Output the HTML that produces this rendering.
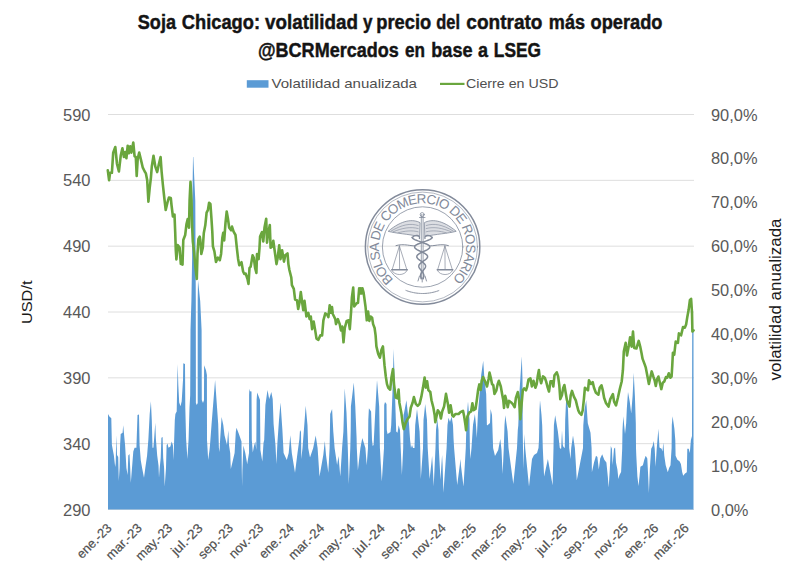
<!DOCTYPE html>
<html><head><meta charset="utf-8"><title>Soja Chicago</title>
<style>html,body{margin:0;padding:0;background:#fff;}svg{display:block;}text{font-family:"Liberation Sans",sans-serif;}</style>
</head><body>
<svg width="800" height="580" viewBox="0 0 800 580">
<rect width="800" height="580" fill="#ffffff"/>
<g font-weight="bold" fill="#141414" stroke="#141414" stroke-width="0.45" font-size="20.4">
<text x="137.8" y="29.3" textLength="38.2" lengthAdjust="spacingAndGlyphs">Soja</text>
<text x="181.8" y="29.3" textLength="78.2" lengthAdjust="spacingAndGlyphs">Chicago:</text>
<text x="265" y="29.3" textLength="93.0" lengthAdjust="spacingAndGlyphs">volatilidad</text>
<text x="363" y="29.3" textLength="9.5" lengthAdjust="spacingAndGlyphs">y</text>
<text x="376.3" y="29.3" textLength="55.0" lengthAdjust="spacingAndGlyphs">precio</text>
<text x="436.3" y="29.3" textLength="23.7" lengthAdjust="spacingAndGlyphs">del</text>
<text x="466.3" y="29.3" textLength="76.2" lengthAdjust="spacingAndGlyphs">contrato</text>
<text x="548.8" y="29.3" textLength="36.2" lengthAdjust="spacingAndGlyphs">más</text>
<text x="590.5" y="29.3" textLength="72.0" lengthAdjust="spacingAndGlyphs">operado</text>
<text x="258" y="56.6" textLength="140.8" lengthAdjust="spacingAndGlyphs">@BCRMercados</text>
<text x="405" y="56.6" textLength="20.0" lengthAdjust="spacingAndGlyphs">en</text>
<text x="431.3" y="56.6" textLength="41.2" lengthAdjust="spacingAndGlyphs">base</text>
<text x="478" y="56.6" textLength="10.0" lengthAdjust="spacingAndGlyphs">a</text>
<text x="493.8" y="56.6" textLength="47.2" lengthAdjust="spacingAndGlyphs">LSEG</text>
</g>
<rect x="246.8" y="80.2" width="21.7" height="7.5" fill="#5b9bd5"/>
<text x="271.5" y="87.6" font-size="13.1" fill="#505050" textLength="145.5" lengthAdjust="spacingAndGlyphs">Volatilidad anualizada</text>
<line x1="440" y1="83.9" x2="464.5" y2="83.9" stroke="#6aa63e" stroke-width="2.2"/>
<text x="466" y="87.6" font-size="13.1" fill="#505050" textLength="92.5" lengthAdjust="spacingAndGlyphs">Cierre en USD</text>
<line x1="108.0" y1="114.50" x2="694.0" y2="114.50" stroke="#dedede" stroke-width="1"/>
<line x1="108.0" y1="180.33" x2="694.0" y2="180.33" stroke="#dedede" stroke-width="1"/>
<line x1="108.0" y1="246.17" x2="694.0" y2="246.17" stroke="#dedede" stroke-width="1"/>
<line x1="108.0" y1="312.00" x2="694.0" y2="312.00" stroke="#dedede" stroke-width="1"/>
<line x1="108.0" y1="377.83" x2="694.0" y2="377.83" stroke="#dedede" stroke-width="1"/>
<line x1="108.0" y1="443.67" x2="694.0" y2="443.67" stroke="#dedede" stroke-width="1"/>
<line x1="108.0" y1="509.50" x2="694.0" y2="509.50" stroke="#dedede" stroke-width="1"/>
<text x="63" y="120.5" font-size="16.6" fill="#595959" textLength="27.5" lengthAdjust="spacingAndGlyphs">590</text>
<text x="63" y="186.3" font-size="16.6" fill="#595959" textLength="27.5" lengthAdjust="spacingAndGlyphs">540</text>
<text x="63" y="252.2" font-size="16.6" fill="#595959" textLength="27.5" lengthAdjust="spacingAndGlyphs">490</text>
<text x="63" y="318.0" font-size="16.6" fill="#595959" textLength="27.5" lengthAdjust="spacingAndGlyphs">440</text>
<text x="63" y="383.8" font-size="16.6" fill="#595959" textLength="27.5" lengthAdjust="spacingAndGlyphs">390</text>
<text x="63" y="449.7" font-size="16.6" fill="#595959" textLength="27.5" lengthAdjust="spacingAndGlyphs">340</text>
<text x="63" y="515.5" font-size="16.6" fill="#595959" textLength="27.5" lengthAdjust="spacingAndGlyphs">290</text>
<text x="711" y="120.5" font-size="16.6" fill="#595959" textLength="46.5" lengthAdjust="spacingAndGlyphs">90,0%</text>
<text x="711" y="164.4" font-size="16.6" fill="#595959" textLength="46.5" lengthAdjust="spacingAndGlyphs">80,0%</text>
<text x="711" y="208.3" font-size="16.6" fill="#595959" textLength="46.5" lengthAdjust="spacingAndGlyphs">70,0%</text>
<text x="711" y="252.2" font-size="16.6" fill="#595959" textLength="46.5" lengthAdjust="spacingAndGlyphs">60,0%</text>
<text x="711" y="296.1" font-size="16.6" fill="#595959" textLength="46.5" lengthAdjust="spacingAndGlyphs">50,0%</text>
<text x="711" y="339.9" font-size="16.6" fill="#595959" textLength="46.5" lengthAdjust="spacingAndGlyphs">40,0%</text>
<text x="711" y="383.8" font-size="16.6" fill="#595959" textLength="46.5" lengthAdjust="spacingAndGlyphs">30,0%</text>
<text x="711" y="427.7" font-size="16.6" fill="#595959" textLength="46.5" lengthAdjust="spacingAndGlyphs">20,0%</text>
<text x="711" y="471.6" font-size="16.6" fill="#595959" textLength="46.5" lengthAdjust="spacingAndGlyphs">10,0%</text>
<text x="711" y="515.5" font-size="16.6" fill="#595959" textLength="37.5" lengthAdjust="spacingAndGlyphs">0,0%</text>
<text transform="translate(32.1,302.3) rotate(-90)" text-anchor="middle" font-size="15.4" fill="#1a1a1a" textLength="43.5" lengthAdjust="spacingAndGlyphs">USD/t</text>
<text transform="translate(780.5,299.5) rotate(-90)" text-anchor="middle" font-size="15.6" fill="#1a1a1a" textLength="162" lengthAdjust="spacingAndGlyphs">volatilidad anualizada</text>
<g fill="none" stroke="#828a9a" stroke-linecap="round" stroke-linejoin="round">
<circle cx="422.6" cy="247.0" r="57.2" stroke-width="1.5"/>
<circle cx="422.6" cy="247.0" r="54.9" stroke-width="0.6"/>
<circle cx="422.6" cy="247.0" r="40.2" stroke-width="0.8"/>
<path d="M405.9,290.4 A46.5,46.5 0 0 0 439.3,290.4" stroke-width="0.9" stroke-dasharray="1.2 0.6"/>
<path d="M421.3,214.5 L421.3,279 M423.1,214.5 L423.1,279" stroke-width="0.8"/>
<circle cx="422.2" cy="214.6" r="2" stroke-width="0.8"/>
<path d="M419.5,217.5 H425" stroke-width="0.8"/>
<path d="M419.7,222.5 C413.2,219 402.2,219.5 388.2,231.3 C396.2,233.5 408.2,234 419.2,236.5 Z" stroke-width="0.8" fill="#828a9a" fill-opacity="0.28"/>
<path d="M418.2,225.5 C410.2,223 402.2,224.5 391.2,231 M418.2,228.5 C410.2,226.5 402.2,228 393.2,231.8 M418.2,231.8 C412.2,230 404.2,231 398.2,232.8" stroke-width="0.6"/>
<path d="M424.7,222.5 C431.2,219 442.2,219.5 456.2,231.3 C448.2,233.5 436.2,234 425.2,236.5 Z" stroke-width="0.8" fill="#828a9a" fill-opacity="0.28"/>
<path d="M426.2,225.5 C434.2,223 442.2,224.5 453.2,231 M426.2,228.5 C434.2,226.5 442.2,228 451.2,231.8 M426.2,231.8 C432.2,230 440.2,231 446.2,232.8" stroke-width="0.6"/>
<path d="M432.2,237.5 L431.8,238.2 L430.9,238.9 L429.7,239.6 L428.1,240.2 L426.4,240.9 L424.4,241.6 L422.5,242.3 L420.6,243.0 L418.8,243.7 L417.3,244.3 L416.1,245.0 L415.2,245.7 L414.7,246.4 L414.6,247.1 L414.8,247.8 L415.4,248.4 L416.3,249.1 L417.4,249.8 L418.7,250.5 L420.1,251.2 L421.6,251.8 L423.0,252.5 L424.3,253.2 L425.4,253.9 L426.4,254.6 L427.1,255.3 L427.5,255.9 L427.6,256.6 L427.5,257.3 L427.1,258.0 L426.5,258.7 L425.7,259.4 L424.8,260.1 L423.9,260.7 L422.9,261.4 L421.9,262.1 L421.0,262.8 L420.3,263.5 L419.7,264.1 L419.2,264.8 L418.9,265.5 L418.8,266.2 L418.9,266.9 L419.1,267.6 L419.5,268.2 L420.0,268.9 L420.5,269.6 L421.1,270.3 L421.6,271.0 L422.2,271.7 L422.7,272.4 L423.1,273.0 L423.4,273.7 L423.7,274.4 L423.8,275.1 L423.8,275.8 L423.8,276.4 L423.6,277.1 L423.4,277.8 L423.2,278.5" stroke-width="1.5"/>
<path d="M412.2,237.5 L412.6,238.2 L413.5,238.9 L414.7,239.6 L416.3,240.2 L418.0,240.9 L420.0,241.6 L421.9,242.3 L423.8,243.0 L425.6,243.7 L427.1,244.3 L428.3,245.0 L429.2,245.7 L429.7,246.4 L429.8,247.1 L429.6,247.8 L429.0,248.4 L428.1,249.1 L427.0,249.8 L425.7,250.5 L424.3,251.2 L422.8,251.8 L421.4,252.5 L420.1,253.2 L419.0,253.9 L418.0,254.6 L417.3,255.3 L416.9,255.9 L416.8,256.6 L416.9,257.3 L417.3,258.0 L417.9,258.7 L418.7,259.4 L419.6,260.1 L420.5,260.7 L421.5,261.4 L422.5,262.1 L423.4,262.8 L424.1,263.5 L424.7,264.1 L425.2,264.8 L425.5,265.5 L425.6,266.2 L425.5,266.9 L425.3,267.6 L424.9,268.2 L424.4,268.9 L423.9,269.6 L423.3,270.3 L422.8,271.0 L422.2,271.7 L421.7,272.4 L421.3,273.0 L421.0,273.7 L420.7,274.4 L420.6,275.1 L420.6,275.8 L420.6,276.4 L420.8,277.1 L421.0,277.8 L421.2,278.5" stroke-width="1.5"/>
<path d="M432.2,237.5 C429,234 424,235 425,238.5 M412.2,237.5 C415.4,234 420.4,235 419.4,238.5" stroke-width="1.3"/>
<path d="M419.5,276 L418,281 M425,276 L426.5,281 M422.2,278 L422.2,282" stroke-width="0.9"/>
<path d="M396,245.6 C404,243.2 412,246.5 415,245.8 M429.5,245.8 C433,246.5 441,243.2 448.4,245.6" stroke-width="1"/>
<path d="M399.4,246 L392.2,269.5 M399.4,246 L406.79999999999995,269.5 M399.4,246 L399.59999999999997,269.5" stroke-width="0.7"/>
<path d="M391.79999999999995,269.7 H407.2" stroke-width="1.6"/>
<path d="M392.0,270.5 C394.4,276 404.79999999999995,276 407.0,270.5" stroke-width="0.7"/>
<path d="M444.9,246 L437.7,269.5 M444.9,246 L452.29999999999995,269.5 M444.9,246 L445.09999999999997,269.5" stroke-width="0.7"/>
<path d="M437.29999999999995,269.7 H452.7" stroke-width="1.6"/>
<path d="M437.5,270.5 C439.9,276 450.29999999999995,276 452.5,270.5" stroke-width="0.7"/>
</g>
<defs><path id="ringp" d="M393.71,279.65 A43.6,43.6 0 1 1 452.61,278.63"/></defs>
<text font-size="13.4" fill="#828a9a" stroke="none"><textPath href="#ringp" textLength="209.3" lengthAdjust="spacing">BOLSA DE COMERCIO DE ROSARIO</textPath></text>
<polygon points="108.0,509.5 108.0,413.9 109.4,416.4 111.3,418.3 111.9,445.0 113.8,455.0 115.2,467.0 115.7,463.0 116.3,435.3 117.0,455.0 118.2,457.0 118.8,481.0 119.6,468.0 120.1,445.0 120.7,434.0 122.6,432.7 123.2,425.2 123.9,432.7 125.1,445.3 126.4,468.0 127.6,475.0 128.3,455.4 129.5,454.1 130.2,468.0 130.8,482.8 132.0,468.0 133.3,451.6 134.6,447.8 136.4,447.8 137.5,415.1 139.0,414.5 139.6,445.3 140.8,460.4 142.1,468.0 144.0,477.7 145.3,468.0 147.1,455.4 148.4,439.0 149.7,413.9 150.9,401.3 151.8,420.2 152.5,447.8 153.4,447.8 154.3,436.5 155.3,422.7 155.9,439.0 157.2,455.4 158.5,465.4 159.0,477.7 159.7,468.0 160.7,457.9 161.4,437.8 162.6,437.1 163.2,457.9 164.1,468.0 164.7,486.5 166.0,468.0 166.6,445.3 167.5,443.4 168.5,447.8 170.4,446.6 171.7,441.5 172.9,445.3 173.5,460.0 174.8,420.2 175.4,413.9 176.7,411.4 177.3,380.0 177.7,364.0 178.3,385.0 179.2,402.5 180.5,406.3 181.7,401.3 183.0,380.0 183.3,363.3 185.0,364.0 185.3,407.6 186.1,439.0 187.4,458.9 188.6,439.0 189.5,407.6 190.2,395.0 190.5,330.0 191.4,301.0 192.1,259.0 192.4,201.0 193.0,157.0 193.3,157.0 195.3,201.0 195.8,301.0 195.9,403.0 196.8,405.0 197.7,403.0 197.7,301.0 198.0,280.0 200.2,301.0 201.6,330.0 201.8,400.0 203.0,403.0 204.0,400.0 204.1,365.2 206.0,370.3 206.9,375.0 207.0,440.0 208.2,460.1 209.5,450.0 210.0,445.0 211.5,425.0 215.1,380.0 218.2,424.0 218.9,448.0 219.5,452.0 220.1,440.0 221.6,417.1 223.3,425.0 224.5,435.3 227.0,445.0 228.3,430.3 229.0,445.0 230.2,453.0 230.8,469.0 232.5,462.0 234.6,453.0 235.8,432.0 236.5,427.8 238.9,434.0 241.5,441.6 241.8,470.0 242.1,486.5 242.4,470.0 243.4,445.4 245.3,453.0 247.2,464.0 249.0,453.0 249.1,395.0 249.4,388.8 250.0,391.3 251.5,391.5 251.8,440.0 252.8,452.6 254.0,446.0 255.3,441.6 256.3,450.0 256.6,400.0 257.2,392.6 259.1,397.6 260.0,400.0 260.4,450.0 262.3,461.4 263.5,443.0 264.2,440.0 265.4,405.0 267.5,390.0 269.2,398.9 271.3,392.0 272.7,398.9 273.6,424.0 275.5,445.4 276.4,464.0 277.4,443.0 279.0,420.0 280.5,402.6 282.4,430.0 283.6,453.0 286.8,460.0 288.7,453.0 290.3,435.3 291.8,453.0 295.0,472.7 297.5,453.0 299.4,439.0 300.0,430.0 301.0,432.0 301.3,458.9 302.5,448.0 303.8,431.6 305.7,405.8 307.5,425.3 308.2,448.0 310.0,457.6 313.2,448.0 315.7,435.4 317.6,448.0 319.5,476.5 323.3,455.0 324.8,441.0 326.0,455.0 328.3,472.7 329.6,448.0 330.2,414.0 332.1,409.0 333.3,431.6 334.6,448.0 337.1,465.0 338.5,456.0 340.3,476.5 342.1,448.0 343.4,431.6 344.7,388.2 346.5,412.7 347.8,448.0 348.8,484.0 350.3,448.0 350.7,430.0 350.9,406.4 353.8,382.5 355.3,406.4 356.6,437.9 356.8,448.0 357.9,470.2 360.4,448.0 362.3,437.9 365.4,448.0 366.7,465.2 368.0,448.0 368.3,420.0 368.9,408.3 371.1,411.5 372.0,440.0 372.7,446.0 373.6,445.0 375.5,406.4 377.0,380.0 379.2,406.4 379.9,448.0 381.8,481.5 384.0,448.0 384.2,405.0 385.0,402.0 386.5,404.0 386.8,430.0 387.5,434.0 390.5,432.0 391.2,425.3 392.4,393.9 393.7,349.0 395.6,412.7 396.2,431.6 397.5,432.8 398.7,425.3 400.0,430.3 400.7,448.0 401.9,475.0 403.2,448.0 403.5,415.0 404.1,412.7 406.4,400.2 408.9,422.8 410.1,440.0 411.0,448.0 412.0,445.0 413.0,448.0 414.5,448.0 415.2,425.3 417.0,409.0 419.6,431.6 420.2,448.0 420.8,479.0 423.0,448.0 423.5,420.0 425.2,403.9 427.0,420.0 427.7,448.0 429.6,479.0 431.5,462.0 432.1,456.0 432.7,465.0 433.7,486.5 435.5,448.0 436.0,430.0 437.2,419.0 438.5,430.0 438.8,448.0 440.5,480.0 441.6,462.0 442.1,455.0 442.6,465.0 443.4,492.8 446.6,448.0 447.5,425.0 448.5,417.8 450.0,422.0 451.6,416.5 453.0,425.0 453.5,438.0 454.1,448.0 457.2,485.0 459.8,465.0 460.4,459.0 461.0,466.0 463.5,486.5 465.8,448.0 466.5,420.0 468.0,401.4 469.5,420.0 469.9,448.0 470.4,459.0 471.5,448.0 473.0,425.0 474.9,414.0 476.0,425.0 476.8,438.0 478.0,412.7 481.2,375.0 483.2,360.7 484.5,380.0 486.2,393.9 486.9,425.3 487.5,425.3 490.0,423.0 490.6,409.0 492.0,415.0 493.1,448.0 495.0,456.0 498.2,450.0 500.3,439.0 501.5,450.0 502.6,474.0 503.8,448.0 504.5,425.0 505.3,415.3 507.6,431.6 508.5,448.0 513.3,484.0 517.0,448.0 517.8,430.0 518.3,425.3 519.6,390.0 521.8,356.3 522.5,380.0 522.7,430.0 523.0,448.0 523.3,469.0 524.0,448.0 524.6,434.0 525.2,448.0 529.0,486.5 532.0,459.0 534.0,455.0 537.0,453.0 538.5,448.0 539.0,440.0 539.5,410.0 540.0,400.2 541.5,415.0 542.2,425.3 542.8,448.0 544.1,476.5 547.9,459.0 552.6,485.3 553.5,448.0 553.9,425.0 555.2,415.3 557.9,431.6 559.8,448.0 561.0,449.0 561.2,448.0 562.0,430.3 562.8,445.0 563.5,447.0 564.8,448.0 565.2,420.0 566.5,391.4 568.0,410.0 569.0,440.0 569.2,448.0 570.5,459.0 571.2,448.0 573.0,435.4 574.9,448.0 576.8,480.3 583.0,448.0 583.3,425.3 584.5,410.0 586.2,400.0 587.8,423.2 590.5,432.8 591.6,448.0 591.9,472.2 594.0,462.6 596.0,455.7 597.4,457.0 598.8,469.5 600.2,458.4 602.2,454.3 604.3,459.8 606.4,462.6 607.8,476.4 608.7,487.4 609.8,469.5 610.8,446.0 611.9,448.8 612.6,465.0 614.0,448.8 615.1,447.4 616.0,462.6 617.4,469.5 618.4,479.0 619.5,475.0 621.1,472.0 622.2,448.8 622.5,430.0 623.3,416.3 625.0,434.0 626.2,423.0 626.8,409.0 628.0,392.1 629.8,402.0 631.2,413.5 632.6,396.0 633.3,382.0 633.7,372.8 634.9,396.0 635.8,423.0 636.0,448.0 636.3,455.7 637.4,476.4 638.5,486.0 639.5,476.4 640.4,466.7 642.9,465.3 644.3,459.8 645.7,455.7 647.3,458.4 648.2,476.4 648.9,493.0 649.8,469.5 651.2,448.8 652.6,446.0 653.7,441.0 654.7,448.8 655.6,466.7 656.7,448.8 658.4,428.7 659.5,447.4 661.6,448.8 662.5,451.6 663.3,442.5 664.3,455.7 665.7,465.3 667.8,472.2 669.1,468.1 670.5,465.3 671.6,448.0 671.8,425.0 672.6,416.3 674.4,428.7 675.3,440.0 675.6,455.7 677.4,459.8 679.5,461.2 680.9,464.0 682.2,472.2 683.2,475.7 685.0,473.6 686.8,472.2 687.3,448.8 688.7,448.8 689.8,452.9 690.9,440.0 692.0,436.0 692.2,331.0 693.5,331.0 693.5,509.5" fill="#5b9bd5"/>
<polyline points="107.8,170.3 109.1,180.3 110.1,172.8 111.9,172.8 113.2,152.6 115.3,147.0 117.0,164.0 118.9,171.5 120.8,155.2 122.4,148.2 123.9,157.0 125.2,152.0 126.4,158.3 127.7,145.7 128.9,153.3 130.2,146.4 131.4,152.6 133.3,142.6 134.6,156.4 135.8,157.0 136.7,175.9 137.7,158.9 139.2,152.6 140.9,159.6 142.8,167.7 144.7,171.5 145.9,173.4 147.2,180.3 148.4,201.7 149.7,187.9 150.9,177.8 151.8,166.5 153.5,155.8 155.3,166.5 157.2,172.1 158.9,164.0 160.6,157.0 161.6,171.5 162.9,185.0 164.2,197.0 165.7,210.0 167.6,202.0 168.9,197.5 170.8,198.0 171.5,205.0 172.9,216.5 174.5,214.6 175.2,232.0 175.8,250.1 176.4,259.5 177.7,245.1 179.6,247.6 180.8,263.9 182.5,264.6 183.3,240.0 185.2,235.0 186.5,224.0 187.7,219.0 189.0,227.8 189.6,200.2 190.5,181.9 191.5,200.2 192.1,225.3 192.8,241.3 194.0,251.4 195.3,266.4 196.8,279.0 197.5,253.9 198.4,239.0 199.7,236.6 200.3,240.0 201.3,253.9 202.8,247.6 203.8,233.0 205.3,225.3 206.6,212.7 207.9,210.2 209.1,202.7 210.4,203.9 211.4,217.8 212.3,231.6 212.9,246.3 214.4,251.4 216.0,262.0 217.9,257.6 219.8,260.2 221.1,253.9 222.3,238.0 223.2,232.9 224.2,240.4 225.5,222.8 226.7,211.5 228.0,219.0 229.2,227.8 231.1,230.3 232.0,226.6 233.6,231.6 235.5,235.0 236.8,247.6 238.1,258.9 239.3,265.2 240.0,264.1 241.5,262.2 243.1,271.5 244.3,274.0 245.7,273.6 247.5,279.0 248.5,284.0 249.5,268.0 250.7,266.6 252.6,255.3 253.8,257.8 255.1,267.9 256.4,272.9 257.0,254.1 258.6,259.1 259.5,247.8 260.1,236.4 262.0,232.0 263.3,241.5 264.5,227.6 266.2,218.8 267.0,242.7 268.3,232.7 269.8,225.1 270.6,247.8 272.1,246.5 273.3,240.8 274.6,250.3 276.5,264.1 277.7,257.8 279.2,245.3 280.5,259.1 282.1,250.3 284.0,261.6 285.3,255.3 287.5,253.4 288.4,264.1 289.4,270.0 291.3,277.5 291.9,285.1 293.8,288.9 295.1,299.6 297.0,300.2 298.2,309.0 299.5,302.7 300.8,292.0 302.0,301.4 303.3,310.3 304.5,300.8 305.8,311.5 306.4,316.5 308.3,312.8 309.6,319.1 310.8,316.5 312.1,329.1 313.7,321.6 315.2,330.4 316.5,338.6 318.4,339.8 320.3,335.4 322.1,335.4 323.4,320.3 325.3,313.4 327.2,314.7 328.4,317.2 329.7,305.2 330.9,312.8 332.0,307.1 332.8,314.0 335.3,319.1 336.0,324.1 337.9,319.1 339.7,324.1 341.0,330.4 342.3,326.6 343.5,342.3 344.8,327.9 346.7,320.9 348.6,320.3 349.8,329.1 351.1,311.5 351.9,297.7 353.2,287.6 354.2,306.5 356.7,303.3 358.0,302.7 359.2,288.2 360.1,293.5 360.8,288.2 361.6,293.5 362.4,288.2 363.6,292.6 365.5,306.5 366.8,320.3 368.1,311.5 369.3,320.9 370.6,316.5 372.1,317.8 373.1,324.1 374.6,328.0 375.6,335.4 376.4,346.4 378.2,353.9 379.9,357.7 381.4,350.1 382.9,346.4 384.5,365.2 385.8,376.5 387.0,384.1 388.3,387.9 390.2,389.7 391.4,377.8 393.0,369.0 394.0,384.1 395.7,397.6 397.5,398.3 398.6,389.5 399.4,402.7 401.3,412.7 402.6,422.8 403.8,429.1 405.7,422.8 407.6,419.0 409.5,416.5 410.8,407.7 412.6,402.7 413.9,397.0 415.8,403.9 417.7,405.8 419.6,403.9 421.4,396.4 423.0,387.6 424.6,377.5 425.8,387.6 427.1,381.3 428.4,390.1 430.3,392.0 431.5,400.2 433.4,407.7 434.7,415.3 435.3,422.2 436.5,416.5 437.8,410.2 439.7,412.7 440.9,418.4 442.2,411.5 444.1,406.4 446.0,393.9 447.9,403.9 449.1,412.7 450.6,405.2 452.3,415.3 453.5,416.5 455.4,414.0 458.6,414.0 460.4,412.1 463.0,410.8 464.2,416.5 465.5,425.3 466.1,430.3 467.4,416.5 469.2,412.7 471.1,411.5 472.4,403.3 473.6,410.2 475.5,409.0 476.8,400.2 478.1,390.1 479.3,384.4 480.6,390.0 481.8,380.5 483.1,377.0 485.0,381.3 487.0,386.5 488.6,378.9 489.5,372.6 490.8,377.7 492.0,384.0 493.3,385.2 494.5,394.0 496.4,390.3 497.7,384.0 498.9,380.8 500.8,386.5 502.1,394.0 503.3,400.3 504.0,407.9 505.2,395.9 506.7,401.6 507.7,407.2 509.0,400.9 510.9,402.2 512.8,404.1 514.7,407.2 515.9,397.8 517.8,392.1 519.1,400.3 520.3,419.2 521.6,404.1 522.8,390.3 524.1,388.4 526.0,390.3 527.2,386.5 528.5,379.6 530.4,378.3 531.9,386.5 533.5,380.8 535.4,387.7 536.7,384.0 537.9,375.2 538.9,370.1 539.8,377.7 541.1,383.3 543.0,376.4 544.8,377.7 546.1,381.4 547.4,386.5 549.0,391.5 550.5,381.4 552.4,381.4 553.3,386.5 554.5,375.2 556.8,372.3 558.1,376.4 559.3,385.2 560.3,399.1 561.9,395.3 563.2,388.0 564.4,385.0 565.7,393.0 566.9,400.0 568.2,403.5 569.5,406.6 570.7,395.3 572.0,390.9 573.9,396.6 575.8,400.3 577.0,405.4 578.3,410.4 579.5,412.9 581.4,414.8 582.7,410.4 583.9,399.1 584.9,387.8 586.4,389.0 588.0,390.3 589.0,380.2 590.8,384.0 592.7,382.1 594.0,387.8 595.9,392.8 598.4,394.7 599.7,387.8 601.5,385.3 602.8,390.3 604.1,397.8 605.9,402.9 608.5,406.6 610.3,399.1 612.9,394.1 614.1,401.6 616.0,405.4 617.9,397.8 619.8,389.0 621.7,381.5 622.9,370.2 623.4,360.0 623.8,351.6 625.7,342.8 627.0,355.4 628.9,345.3 630.1,337.2 631.6,346.6 633.0,331.5 634.2,347.9 636.4,348.5 638.7,340.9 640.2,346.6 641.5,353.0 642.6,358.9 644.5,363.9 645.8,367.7 647.0,374.0 648.9,384.0 650.2,377.7 651.7,371.4 653.3,376.5 654.6,380.3 655.8,385.9 657.1,379.0 658.4,376.5 659.6,381.5 661.3,389.1 662.8,382.8 664.3,381.5 665.9,377.1 667.2,377.7 668.8,373.3 670.3,377.7 671.6,376.5 672.3,365.0 672.9,352.9 674.2,354.8 675.7,341.6 677.9,342.8 678.9,333.4 681.1,335.3 683.0,327.1 684.8,327.7 686.1,324.6 687.4,316.4 688.6,310.1 689.9,300.1 691.1,298.8 692.0,312.6 692.4,331.5 693.6,330.3" fill="none" stroke="#6aa63e" stroke-width="2.6" stroke-linejoin="round" stroke-linecap="round"/>
<text transform="translate(112.4,528.9) rotate(-45)" text-anchor="end" font-size="13" fill="#505050" stroke="#505050" stroke-width="0.2" textLength="43" lengthAdjust="spacingAndGlyphs">ene.-23</text>
<text transform="translate(142.8,528.9) rotate(-45)" text-anchor="end" font-size="13" fill="#505050" stroke="#505050" stroke-width="0.2" textLength="44.8" lengthAdjust="spacingAndGlyphs">mar.-23</text>
<text transform="translate(173.2,528.9) rotate(-45)" text-anchor="end" font-size="13" fill="#505050" stroke="#505050" stroke-width="0.2" textLength="45.8" lengthAdjust="spacingAndGlyphs">may.-23</text>
<text transform="translate(203.5,528.9) rotate(-45)" text-anchor="end" font-size="13" fill="#505050" stroke="#505050" stroke-width="0.2" textLength="38.5" lengthAdjust="spacingAndGlyphs">jul.-23</text>
<text transform="translate(233.9,528.9) rotate(-45)" text-anchor="end" font-size="13" fill="#505050" stroke="#505050" stroke-width="0.2" textLength="43.5" lengthAdjust="spacingAndGlyphs">sep.-23</text>
<text transform="translate(264.3,528.9) rotate(-45)" text-anchor="end" font-size="13" fill="#505050" stroke="#505050" stroke-width="0.2" textLength="43" lengthAdjust="spacingAndGlyphs">nov.-23</text>
<text transform="translate(294.7,528.9) rotate(-45)" text-anchor="end" font-size="13" fill="#505050" stroke="#505050" stroke-width="0.2" textLength="43" lengthAdjust="spacingAndGlyphs">ene.-24</text>
<text transform="translate(325.1,528.9) rotate(-45)" text-anchor="end" font-size="13" fill="#505050" stroke="#505050" stroke-width="0.2" textLength="44.8" lengthAdjust="spacingAndGlyphs">mar.-24</text>
<text transform="translate(355.4,528.9) rotate(-45)" text-anchor="end" font-size="13" fill="#505050" stroke="#505050" stroke-width="0.2" textLength="45.8" lengthAdjust="spacingAndGlyphs">may.-24</text>
<text transform="translate(385.8,528.9) rotate(-45)" text-anchor="end" font-size="13" fill="#505050" stroke="#505050" stroke-width="0.2" textLength="38.5" lengthAdjust="spacingAndGlyphs">jul.-24</text>
<text transform="translate(416.2,528.9) rotate(-45)" text-anchor="end" font-size="13" fill="#505050" stroke="#505050" stroke-width="0.2" textLength="43.5" lengthAdjust="spacingAndGlyphs">sep.-24</text>
<text transform="translate(446.6,528.9) rotate(-45)" text-anchor="end" font-size="13" fill="#505050" stroke="#505050" stroke-width="0.2" textLength="43" lengthAdjust="spacingAndGlyphs">nov.-24</text>
<text transform="translate(477.0,528.9) rotate(-45)" text-anchor="end" font-size="13" fill="#505050" stroke="#505050" stroke-width="0.2" textLength="43" lengthAdjust="spacingAndGlyphs">ene.-25</text>
<text transform="translate(507.3,528.9) rotate(-45)" text-anchor="end" font-size="13" fill="#505050" stroke="#505050" stroke-width="0.2" textLength="44.8" lengthAdjust="spacingAndGlyphs">mar.-25</text>
<text transform="translate(537.7,528.9) rotate(-45)" text-anchor="end" font-size="13" fill="#505050" stroke="#505050" stroke-width="0.2" textLength="45.8" lengthAdjust="spacingAndGlyphs">may.-25</text>
<text transform="translate(568.1,528.9) rotate(-45)" text-anchor="end" font-size="13" fill="#505050" stroke="#505050" stroke-width="0.2" textLength="38.5" lengthAdjust="spacingAndGlyphs">jul.-25</text>
<text transform="translate(598.5,528.9) rotate(-45)" text-anchor="end" font-size="13" fill="#505050" stroke="#505050" stroke-width="0.2" textLength="43.5" lengthAdjust="spacingAndGlyphs">sep.-25</text>
<text transform="translate(628.9,528.9) rotate(-45)" text-anchor="end" font-size="13" fill="#505050" stroke="#505050" stroke-width="0.2" textLength="43" lengthAdjust="spacingAndGlyphs">nov.-25</text>
<text transform="translate(659.2,528.9) rotate(-45)" text-anchor="end" font-size="13" fill="#505050" stroke="#505050" stroke-width="0.2" textLength="43" lengthAdjust="spacingAndGlyphs">ene.-26</text>
<text transform="translate(689.6,528.9) rotate(-45)" text-anchor="end" font-size="13" fill="#505050" stroke="#505050" stroke-width="0.2" textLength="44.8" lengthAdjust="spacingAndGlyphs">mar.-26</text>
</svg>
</body></html>
